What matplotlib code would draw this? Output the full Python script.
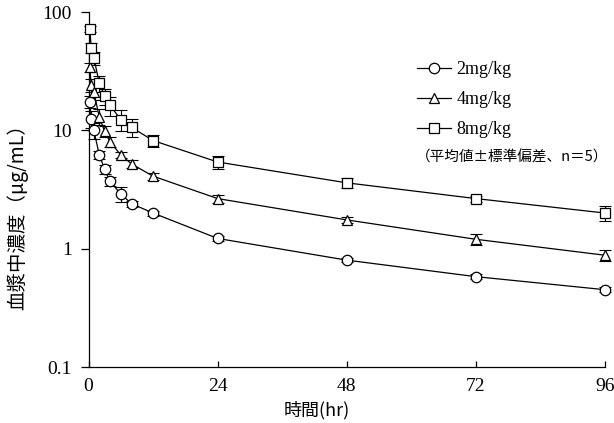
import matplotlib
matplotlib.use("Agg")
import matplotlib.pyplot as plt
import numpy as np

plt.rcParams['font.family'] = ['Liberation Serif', 'Noto Sans CJK JP', 'DejaVu Sans']

times = [0.25, 0.5, 1, 2, 3, 4, 6, 8, 12, 24, 48, 72, 96]

conc_2 = [17.5, 12.5, 10.0, 6.2, 4.7, 3.7, 2.9, 2.4, 2.0, 1.22, 0.80, 0.58, 0.45]
sd_2 = [2.0, 2.0, 1.5, 0.5, 0.4, 0.3, 0.4, 0.15, 0.1, 0.05, 0.03, 0.03, 0.02]

conc_4 = [34, 24, 21, 13, 9.8, 8.0, 6.2, 5.2, 4.1, 2.65, 1.75, 1.2, 0.88]
sd_4 = [3.0, 3.0, 3.0, 2.0, 1.0, 0.8, 0.4, 0.4, 0.3, 0.2, 0.1, 0.12, 0.1]

conc_8 = [72, 50, 41, 25, 19.5, 16.3, 12.3, 10.6, 8.2, 5.4, 3.6, 2.65, 2.0]
sd_8 = [4.0, 5.0, 5.0, 4.0, 3.0, 3.0, 2.5, 1.8, 1.0, 0.7, 0.35, 0.15, 0.3]

labels = ['2mg/kg', '4mg/kg', '8mg/kg']
markers = ['o', '^', 's']
xticks = [0, 24, 48, 72, 96]
yticks = [0.1, 1, 10, 100]
ytick_labels = ['0.1', '1', '10', '100']
note = '（平均値±標準偏差、n＝5）'
xlabel = '時間(hr)'
ylabel = '血漿中濃度（μg/mL）'

fig = plt.figure(figsize=(6.14, 4.23), dpi=100)
ax = fig.add_axes([88.5/614, 1-367/423, (605-88.5)/614, (367-12)/423])

handles = []
for conc, sd, m, lab in zip([conc_2, conc_4, conc_8], [sd_2, sd_4, sd_8], markers, labels):
    ax.errorbar(times, conc, yerr=sd, fmt='none', ecolor='black', elinewidth=0.8,
                capsize=4, capthick=0.8, zorder=2, clip_on=False)
    h, = ax.plot(times, conc, color='black', lw=0.9, marker=m, markersize=7.5,
                 markerfacecolor='white', markeredgecolor='black', markeredgewidth=0.9,
                 zorder=3, clip_on=False, label=lab)
    handles.append(h)

ax.set_yscale('log')
ax.set_ylim(0.1, 100)
ax.set_xlim(0, 96)
ax.set_xticks(xticks)
ax.set_xticklabels([str(t) for t in xticks])
ax.set_yticks(yticks)
ax.set_yticklabels(ytick_labels)
ax.yaxis.set_minor_locator(matplotlib.ticker.NullLocator())
for s in ['top', 'right']:
    ax.spines[s].set_visible(False)
for s in ['left', 'bottom']:
    ax.spines[s].set_linewidth(0.9)
ax.tick_params(axis='x', direction='in', length=4, width=0.9, labelsize=14, pad=8)
ax.tick_params(axis='y', direction='out', length=6, width=0.9, labelsize=14, pad=6)

ax.set_xlabel(xlabel, fontsize=13, family=['Noto Sans CJK JP'])
ax.xaxis.label.set_va('center')
ax.xaxis.set_label_coords((317-88.5)/516.5, -(410-367)/355, transform=ax.transAxes)
ax.set_ylabel(ylabel, fontsize=14, family=['Noto Sans CJK JP'])
ax.yaxis.label.set_va('center')
ax.yaxis.set_label_coords(-(88.5-17)/516.5, (367-212)/355, transform=ax.transAxes)

leg = fig.legend(handles=handles, loc='upper left', bbox_to_anchor=(417/614, 1-61/423),
                 frameon=False, fontsize=13, handlelength=1.9, handletextpad=0.3,
                 labelspacing=0.72, borderaxespad=0, borderpad=0)
fig.text(416/614, 1-158/423, note, fontsize=10.5, family=['Noto Sans CJK JP'],
         va='center', ha='left')

fig.savefig('out.png', dpi=100)
